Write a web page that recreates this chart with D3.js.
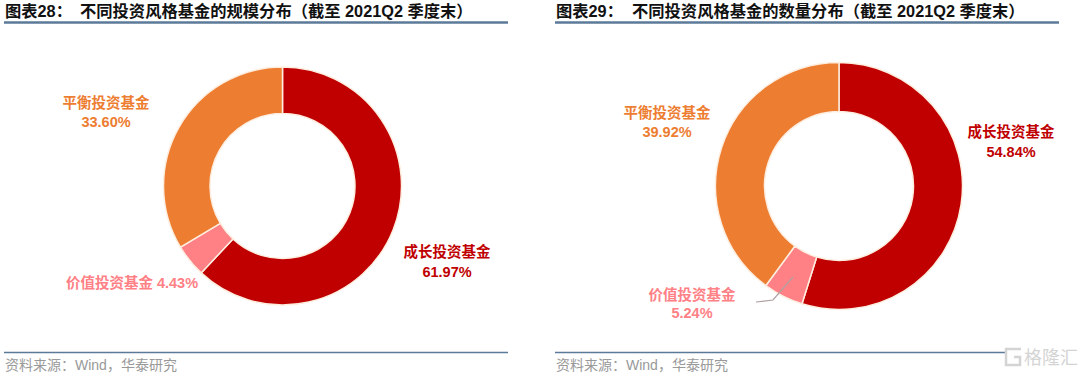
<!DOCTYPE html>
<html><head><meta charset="utf-8">
<script src="https://cdn.jsdelivr.net/npm/d3@7/dist/d3.min.js"></script>
<style>html,body{margin:0;padding:0;background:#fff}svg{display:block}
text{font-family:"Liberation Sans","Noto Sans CJK SC",sans-serif}</style>
</head><body><svg id="c" width="1080" height="375"></svg>
<script>
const categories = ["成长投资基金","价值投资基金","平衡投资基金"];
const sizeShares = [61.97,4.43,33.60];
const countShares = [54.84,5.24,39.92];
const colors = ["#C00000","#FF8085","#ED7D31"];
const titlePrefixes = ["图表28：","图表29："];
const titles = ["不同投资风格基金的规模分布（截至 2021Q2 季度末）","不同投资风格基金的数量分布（截至 2021Q2 季度末）"];
const source = "资料来源：Wind，华泰研究";

const svg = d3.select("#c");
const panels = [
 {values:sizeShares,x0:4,x1:508,tx:5,bx:80,cx:282.5,cy:186,r:119,ir:72.5,
  labels:[{x:447,y:[257,277]},{x:132,y:[288],inline:true},{x:106,y:[108,127]}]},
 {values:countShares,x0:555,x1:1059,tx:556,bx:632,cx:839,cy:186,r:123.5,ir:74.5,
  labels:[{x:1011,y:[137,157]},{x:692,y:[300,318]},{x:667,y:[118,137]}]}
];
panels.forEach((p,i)=>{
  svg.append("text").attr("x",p.tx).attr("y",17).attr("font-size",16.3).attr("font-weight",700)
     .attr("fill","#111").text(titlePrefixes[i]);
  svg.append("text").attr("x",p.bx).attr("y",17).attr("font-size",16.3).attr("font-weight",700)
     .attr("fill","#111").text(titles[i]);
  svg.append("line").attr("x1",p.x0).attr("x2",p.x1).attr("y1",22.5).attr("y2",22.5)
     .attr("stroke","#5B7A99").attr("stroke-width",2.4);
  svg.append("line").attr("x1",p.x0).attr("x2",p.x1).attr("y1",352.5).attr("y2",352.5)
     .attr("stroke","#5B7A99").attr("stroke-width",1.4);
  svg.append("text").attr("x",p.tx).attr("y",370).attr("font-size",14).attr("fill","#999").text(source);

  const pie = d3.pie().sort(null).value(d=>d)(p.values);
  const arc = d3.arc().innerRadius(p.ir).outerRadius(p.r);
  const g = svg.append("g").attr("transform",`translate(${p.cx},${p.cy})`);
  g.selectAll("path").data(pie).join("path").attr("d",arc)
    .attr("fill",(d,j)=>colors[j]).attr("stroke","#fdeee0").attr("stroke-width",1.5);

  p.labels.forEach((l,j)=>{
    const pct = d3.format(".2f")(p.values[j])+"%";
    const t = svg.append("text").attr("text-anchor","middle").attr("font-size",14.5).attr("font-weight",700).attr("fill",colors[j]);
    if(l.inline){ t.attr("x",l.x).attr("y",l.y[0]).text(categories[j]+" "+pct); }
    else {
      t.append("tspan").attr("x",l.x).attr("y",l.y[0]).text(categories[j]);
      t.append("tspan").attr("x",l.x).attr("y",l.y[1]).text(pct);
    }
  });
  if(i===1){
    svg.append("path").attr("fill","none").attr("stroke","#b0a0a0").attr("stroke-width",1.2)
      .attr("d",d3.line()([[793,277],[773,300],[756,302]]));
  }
});
// watermark
svg.append("rect").attr("x",1005).attr("y",346).attr("width",60).attr("height",22).attr("fill","#fff");
svg.append("path").attr("d","M1021 349 h-15 v16 h14 v-8 h-6").attr("fill","none").attr("stroke","#d4d4d4").attr("stroke-width",2.5);
svg.append("text").attr("x",1024).attr("y",364).attr("font-size",18).attr("fill","#d4d4d4").text("格隆汇");
</script></body></html>
